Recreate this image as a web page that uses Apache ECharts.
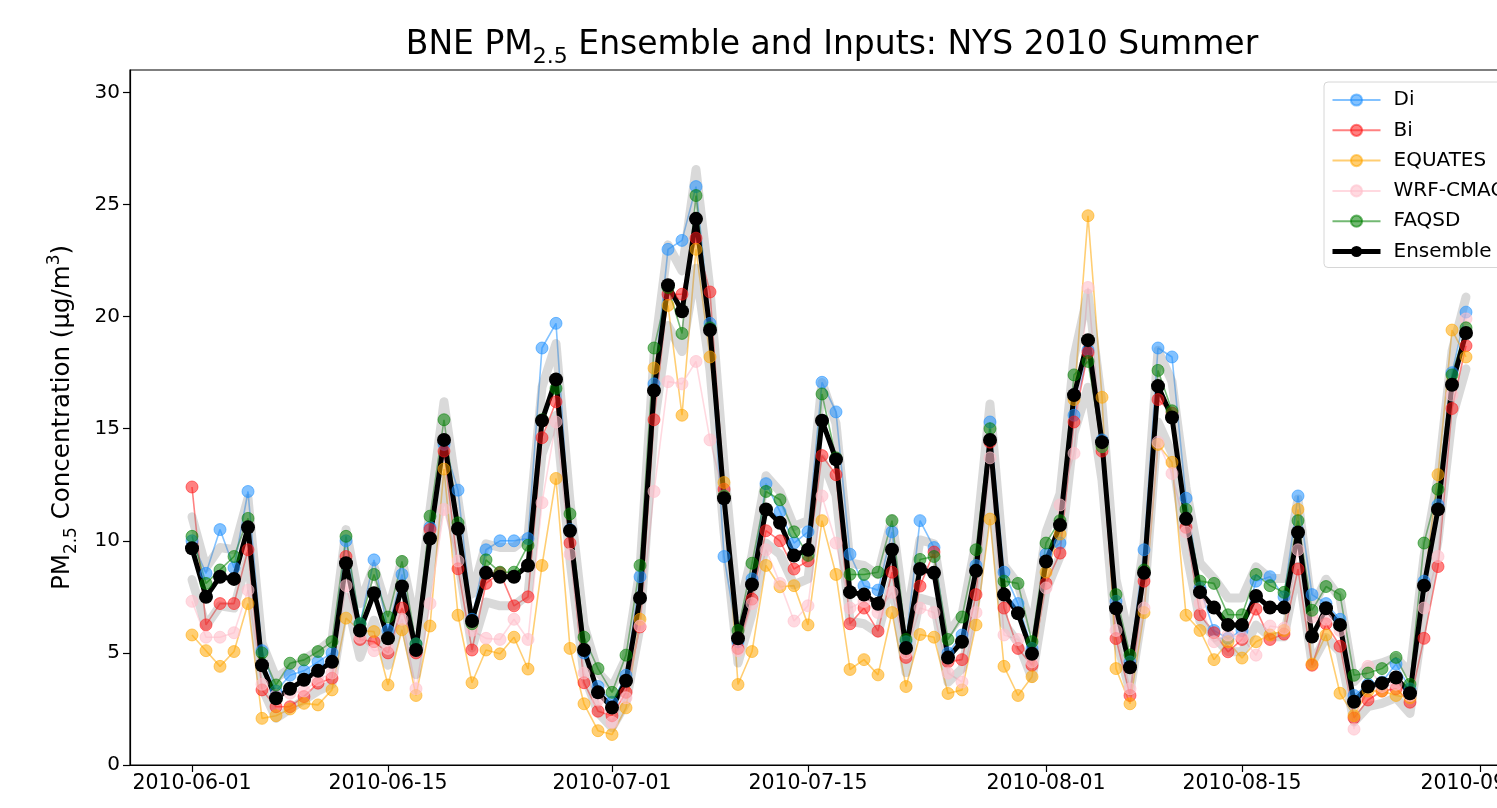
<!DOCTYPE html>
<html>
<head>
<meta charset="utf-8">
<title>BNE PM2.5 Ensemble and Inputs</title>
<script src="https://cdn.jsdelivr.net/npm/echarts@6/dist/echarts.min.js"></script>
<style>
  html, body { margin: 0; padding: 0; background: #fff; }
  #chart { width: 1497px; height: 808px; }
</style>
</head>
<body>
<div id="chart"></div>
<script>
// daily values, 2010-06-01 .. 2010-08-31
var di = [10.0, 8.55, 10.5, 8.8, 12.2, 5.1, 3.3, 4.0, 4.2, 4.6, 5.0, 10.0, 6.3, 9.15, 6.0, 8.5, 5.4, 10.6, 14.3, 12.26,
  6.5, 9.6, 10.0, 10.0, 10.1, 18.6, 19.7, 10.5, 5.0, 3.5, 2.8, 4.0, 8.4, 17.0, 23.0, 23.4, 25.8, 19.7, 9.3, 5.5,
  8.3, 12.55, 11.3, 9.9, 10.4, 17.07, 15.75, 9.4, 8.0, 7.8, 10.4, 5.5, 10.9, 9.7, 5.0, 5.8, 8.9, 15.3, 8.6, 7.2,
  5.2, 9.4, 9.9, 15.6, 18.5, 14.5, 7.3, 4.6, 9.6, 18.6, 18.2, 11.9, 7.9, 6.0, 5.65, 6.0, 8.2, 8.4, 7.5, 12.0,
  7.6, 7.2, 6.5, 3.1, 3.6, 3.7, 4.5, 3.4, 8.2, 11.6, 17.5, 20.2];
var bi = [12.4, 6.25, 7.2, 7.2, 9.6, 3.35, 2.6, 2.6, 3.05, 3.65, 3.87, 9.3, 5.6, 5.5, 5.0, 7.0, 5.0, 10.5, 14.0, 8.75,
  5.13, 8.1, 8.57, 7.1, 7.5, 14.6, 16.2, 9.9, 3.67, 2.4, 2.2, 3.24, 6.16, 15.4, 21.0, 21.0, 23.5, 21.1, 12.3, 5.2,
  7.4, 10.45, 10.0, 8.74, 9.1, 13.8, 12.95, 6.3, 7.0, 5.97, 8.6, 4.8, 7.98, 9.5, 4.6, 4.7, 7.6, 14.4, 7.0, 5.2,
  4.45, 8.1, 9.45, 15.3, 18.4, 14.0, 5.64, 3.1, 8.2, 16.3, 15.7, 10.6, 6.7, 5.9, 5.05, 5.6, 6.95, 5.6, 5.84, 8.74,
  4.45, 6.3, 5.3, 2.1, 2.9, 3.3, 3.4, 2.8, 5.65, 8.85, 15.9, 18.7];
var equates = [5.8, 5.1, 4.4, 5.06, 7.2, 2.08, 2.2, 2.5, 2.75, 2.68, 3.35, 6.55, 6.0, 5.95, 3.57, 6.03, 3.1, 6.2, 13.2, 6.68,
  3.67, 5.13, 4.96, 5.7, 4.28, 8.9, 12.78, 5.2, 2.73, 1.53, 1.36, 2.55, 6.5, 17.7, 20.5, 15.6, 23.0, 18.2, 12.6, 3.59,
  5.06, 8.9, 7.95, 8.0, 6.25, 10.9, 8.5, 4.26, 4.7, 4.02, 6.8, 3.5, 5.82, 5.7, 3.19, 3.35, 6.25, 10.97, 4.4, 3.1,
  3.94, 8.6, 10.3, 16.3, 24.5, 16.4, 4.3, 2.73, 6.8, 14.3, 13.5, 6.68, 6.0, 4.7, 5.5, 4.77, 5.5, 5.8, 6.0, 11.4,
  4.5, 5.8, 3.2, 2.2, 3.3, 3.3, 3.1, 3.0, 8.0, 12.95, 19.4, 18.2];
var wrfCmaq = [7.3, 5.7, 5.7, 5.9, 7.8, 3.6, 3.1, 3.2, 3.3, 3.8, 4.1, 8.0, 5.7, 5.1, 5.2, 6.5, 3.4, 7.2, 11.4, 9.1,
  6.0, 5.65, 5.6, 6.5, 5.6, 11.7, 15.3, 9.4, 4.1, 2.9, 1.9, 3.0, 6.2, 12.2, 17.1, 17.0, 18.0, 14.5, 12.0, 5.1,
  7.2, 9.6, 8.1, 6.42, 7.1, 12.0, 9.9, 7.0, 7.3, 6.8, 7.7, 5.0, 7.0, 6.8, 4.1, 3.7, 6.8, 13.7, 5.8, 5.6,
  4.6, 7.9, 11.6, 13.9, 21.3, 14.2, 6.0, 3.4, 7.0, 14.4, 13.0, 10.4, 7.2, 5.5, 5.8, 5.7, 4.9, 6.2, 6.1, 9.6,
  6.6, 6.5, 6.0, 1.6, 4.4, 3.5, 3.6, 3.1, 7.0, 9.3, 16.5, 19.9];
var faqsd = [10.2, 8.1, 8.7, 9.3, 11.0, 5.0, 3.57, 4.54, 4.69, 5.06, 5.5, 10.2, 6.3, 8.5, 6.6, 9.08, 5.4, 11.1, 15.4, 10.8,
  6.3, 9.15, 8.6, 8.6, 9.8, 15.4, 16.8, 11.2, 5.7, 4.3, 3.24, 4.9, 8.9, 18.6, 21.3, 19.25, 25.4, 19.5, 12.0, 6.0,
  9.0, 12.2, 11.83, 10.4, 9.35, 16.55, 13.7, 8.5, 8.5, 8.6, 10.9, 5.6, 9.17, 9.3, 5.6, 6.6, 9.6, 15.0, 8.2, 8.1,
  5.5, 9.9, 10.9, 17.4, 18.0, 14.2, 7.6, 4.9, 8.7, 17.6, 15.8, 11.4, 8.2, 8.1, 6.7, 6.7, 8.5, 8.0, 7.7, 10.9,
  6.9, 7.96, 7.6, 4.0, 4.1, 4.3, 4.8, 3.6, 9.9, 12.3, 17.4, 19.5];
var ensemble = [9.67, 7.5, 8.4, 8.3, 10.6, 4.45, 2.98, 3.4, 3.8, 4.2, 4.6, 9.0, 6.0, 7.66, 5.65, 7.96, 5.13, 10.1, 14.5, 10.54,
  6.42, 8.57, 8.4, 8.4, 8.9, 15.36, 17.2, 10.45, 5.13, 3.24, 2.56, 3.76, 7.45, 16.7, 21.4, 20.24, 24.36, 19.4, 11.9, 5.65,
  8.05, 11.4, 10.8, 9.34, 9.6, 15.36, 13.63, 7.71, 7.6, 7.19, 9.6, 5.22, 8.74, 8.57, 4.79, 5.5, 8.66, 14.5, 7.6, 6.77,
  4.96, 9.08, 10.7, 16.5, 18.95, 14.4, 6.99, 4.36, 8.57, 16.9, 15.5, 10.98, 7.71, 7.02, 6.25, 6.25, 7.54, 7.02, 7.02, 10.37,
  5.73, 6.99, 6.25, 2.82, 3.5, 3.65, 3.9, 3.2, 8.0, 11.4, 16.96, 19.27];
// half width of the grey uncertainty band around the ensemble
var ensembleSpread = [1.4, 1.3, 1.3, 1.3, 1.3, 1.0, 0.9, 0.9, 0.9, 0.9, 1.0, 1.5, 1.2, 1.2, 1.2, 1.2, 1.1, 1.3, 1.7, 1.3,
  1.2, 1.3, 1.3, 1.3, 1.3, 1.5, 1.6, 1.3, 1.1, 0.9, 0.9, 1.0, 1.3, 1.6, 1.8, 1.8, 2.2, 1.8, 1.5, 1.1,
  1.3, 1.5, 1.4, 1.3, 1.3, 1.7, 1.6, 1.3, 1.3, 1.3, 1.4, 1.1, 1.3, 1.3, 1.1, 1.2, 1.3, 1.6, 1.3, 1.3,
  1.1, 1.3, 1.4, 1.7, 2.1, 1.7, 1.3, 1.1, 1.3, 1.6, 1.6, 1.4, 1.3, 1.3, 1.2, 1.2, 1.3, 1.3, 1.3, 1.5,
  1.2, 1.3, 1.2, 0.9, 0.9, 0.9, 0.9, 0.9, 1.3, 1.4, 1.5, 1.6];
var tickDates = ['2010-06-01', '2010-06-15', '2010-07-01', '2010-07-15', '2010-08-01', '2010-08-15', '2010-09-01'];
var yTicks = [0, 5, 10, 15, 20, 25, 30];

var DAY = 86400000;
var start = Date.UTC(2010, 5, 1);
var dates = ensemble.map(function (v, i) { return start + i * DAY; });
var tickValues = tickDates.map(function (s) {
  var p = s.split('-');
  return Date.UTC(+p[0], +p[1] - 1, +p[2]);
});
function pairs(vals) {
  return vals.map(function (v, i) { return [dates[i], v]; });
}
function pad(n) { return n < 10 ? '0' + n : '' + n; }
function fmtDate(ms) {
  var d = new Date(ms);
  return d.getUTCFullYear() + '-' + pad(d.getUTCMonth() + 1) + '-' + pad(d.getUTCDate());
}

// 14 px per day, first day 62 px right of the left spine; the right spine falls outside the picture
var pxPerDay = 14;
var gridLeft = 130, gridRight = -40;
var plotWidth = 1497 - gridLeft - gridRight;
var xMin = start - 62 / pxPerDay * DAY;
var xMax = xMin + plotWidth / pxPerDay * DAY;

var font = 'DejaVu Sans';

function inputSeries(name, vals, color, opacity) {
  return {
    name: name,
    type: 'line',
    data: pairs(vals),
    symbol: 'circle',
    symbolSize: 12,
    lineStyle: { color: color, width: 1.6, opacity: opacity },
    itemStyle: { color: color, opacity: opacity, borderColor: color, borderWidth: 1 },
    emphasis: { disabled: true }
  };
}

var bandLow = ensemble.map(function (v, i) { return v - ensembleSpread[i]; });
var bandWidth = ensembleSpread.map(function (s) { return 2 * s; });
var bandHigh = ensemble.map(function (v, i) { return v + ensembleSpread[i]; });

var myChart = echarts.init(document.getElementById('chart'));
var option = {
  animation: false,
  backgroundColor: '#fff',
  title: {
    text: '{a|BNE PM}{sub|2.5}{a| Ensemble and Inputs: NYS 2010 Summer}',
    left: 827,
    textAlign: 'center',
    top: 17,
    textStyle: {
      fontFamily: font,
      fontWeight: 'normal',
      color: '#000',
      rich: {
        a: { fontFamily: font, fontSize: 33, color: '#000', lineHeight: 46, verticalAlign: 'middle' },
        sub: { fontFamily: font, fontSize: 22, color: '#000', lineHeight: 46, verticalAlign: 'bottom' }
      }
    }
  },
  legend: {
    orient: 'vertical',
    left: 1324,
    top: 82,
    padding: [8, 30, 6, 6],
    itemWidth: 48,
    itemHeight: 14,
    itemGap: 10.3,
    backgroundColor: '#fff',
    borderColor: '#d6d6d6',
    borderWidth: 1,
    borderRadius: 4,
    data: ['Di', 'Bi', 'EQUATES', 'WRF-CMAQ', 'FAQSD',
      { name: 'Ensemble', lineStyle: { width: 5 } }],
    textStyle: { fontFamily: font, fontSize: 20, color: '#000', padding: [0, 0, 0, 8] }
  },
  grid: {
    left: gridLeft, right: gridRight, top: 70, bottom: 43,
    outerBoundsMode: 'none',
    show: true, borderColor: '#000', borderWidth: 1.2
  },
  xAxis: {
    type: 'value',
    min: xMin,
    max: xMax,
    axisLine: { lineStyle: { color: '#000', width: 1.2 } },
    axisTick: { length: 7, lineStyle: { color: '#000', width: 1.2 }, customValues: tickValues },
    axisLabel: {
      customValues: tickValues,
      formatter: function (v) { return fmtDate(v); },
      fontFamily: font, fontSize: 20.5, color: '#000', margin: 8
    },
    splitLine: { show: false }
  },
  yAxis: {
    type: 'value',
    min: 0,
    max: 31,
    name: '{a|PM}{sub|2.5}{a| Concentration (μg/m}{sup|3}{a|)}',
    nameLocation: 'middle',
    nameRotate: 90,
    nameGap: 50,
    nameTextStyle: {
      fontFamily: font,
      color: '#000',
      rich: {
        a: { fontFamily: font, fontSize: 24.5, color: '#000', lineHeight: 34, verticalAlign: 'middle' },
        sub: { fontFamily: font, fontSize: 17, color: '#000', lineHeight: 34, verticalAlign: 'bottom' },
        sup: { fontFamily: font, fontSize: 17, color: '#000', lineHeight: 34, verticalAlign: 'top' }
      }
    },
    axisLine: { show: true, lineStyle: { color: '#000', width: 1.2 } },
    axisTick: { show: true, length: 7, lineStyle: { color: '#000', width: 1.2 }, customValues: yTicks },
    axisLabel: { customValues: yTicks, fontFamily: font, fontSize: 20, color: '#000', margin: 10 },
    splitLine: { show: false }
  },
  series: [
    inputSeries('Di', di, '#1e90ff', 0.55),
    inputSeries('Bi', bi, '#ff1a1a', 0.55),
    inputSeries('EQUATES', equates, '#ffa500', 0.55),
    inputSeries('WRF-CMAQ', wrfCmaq, '#ffc0cb', 0.6),
    inputSeries('FAQSD', faqsd, '#008000', 0.55),
    {
      name: 'bandLow', type: 'line', stack: 'band', data: pairs(bandLow),
      symbol: 'none', lineStyle: { opacity: 0 }, silent: true
    },
    {
      name: 'bandRange', type: 'line', stack: 'band', data: pairs(bandWidth),
      symbol: 'none', lineStyle: { opacity: 0 },
      areaStyle: { color: '#808080', opacity: 0.5 }, silent: true
    },
    {
      name: 'bandLowEdge', type: 'line', data: pairs(bandLow), symbol: 'none', silent: true,
      lineStyle: { color: '#808080', width: 9, opacity: 0.3, join: 'round', cap: 'round' }
    },
    {
      name: 'bandHighEdge', type: 'line', data: pairs(bandHigh), symbol: 'none', silent: true,
      lineStyle: { color: '#808080', width: 9, opacity: 0.3, join: 'round', cap: 'round' }
    },
    {
      name: 'Ensemble',
      type: 'line',
      data: pairs(ensemble),
      symbol: 'circle',
      symbolSize: 14,
      lineStyle: { color: '#000', width: 5 },
      itemStyle: { color: '#000' },
      emphasis: { disabled: true }
    }
  ]
};
myChart.setOption(option);
window.addEventListener('resize', function () {
  myChart.resize();
});
</script>
</body>
</html>
